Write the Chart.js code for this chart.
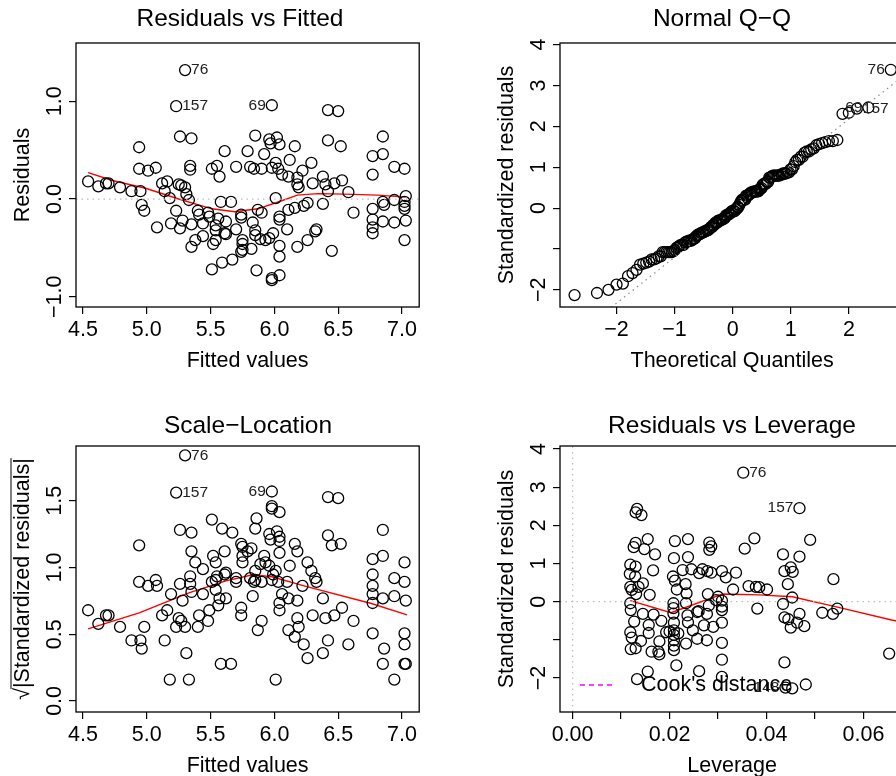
<!DOCTYPE html>
<html>
<head>
<meta charset="utf-8">
<script src="https://cdn.jsdelivr.net/npm/chart.js@4.4.1/dist/chart.umd.min.js"></script>
<style>
  html, body { margin: 0; padding: 0; background: #fff; overflow: hidden; }
  #wrap { position: relative; width: 896px; height: 776px; overflow: hidden; }
  canvas { position: absolute; }
</style>
</head>
<body>
<div id="wrap"></div>
<script>
// Residuals vs fitted (first three points are obs 76, 157, 69)
const fitted = [5.30,5.23,5.98,6.42,6.50,5.26,5.35,5.85,5.96,6.02,5.97,6.04,6.16,4.94,6.42,6.52,6.85,6.77,6.85,6.94,
  7.02,6.77,5.61,5.79,5.92,6.12,6.01,6.29,6.22,4.94,5.01,5.07,5.34,5.34,5.51,5.55,5.57,5.70,5.81,5.84,
  5.90,5.98,6.03,6.06,6.11,6.18,6.18,6.19,6.30,6.38,6.40,6.47,6.53,6.42,6.58,4.54,4.62,4.68,4.70,4.79,
  4.88,4.95,5.12,5.16,5.25,5.27,5.30,5.14,5.18,5.31,5.33,6.01,5.58,5.66,4.96,4.98,5.23,5.08,5.19,5.26,
  5.28,5.35,5.40,5.41,5.48,5.49,5.56,5.54,5.62,5.44,5.54,5.61,5.70,5.62,5.74,5.74,5.87,5.90,5.83,6.04,
  6.04,6.11,6.16,6.23,6.26,6.38,5.85,5.85,5.89,5.93,5.96,5.99,6.10,6.33,6.32,6.26,6.18,6.04,6.04,5.38,
  5.35,5.44,5.54,5.52,5.75,5.75,5.75,5.74,5.82,5.51,5.59,5.67,5.86,5.98,5.98,6.04,6.45,6.62,6.77,6.85,
  6.86,6.94,7.03,7.02,7.02,7.02,6.77,6.85,6.94,7.03,6.77,6.77,7.02];
const residuals = [1.32,0.95,0.96,0.91,0.90,0.64,0.62,0.65,0.61,0.63,0.57,0.56,0.54,0.53,0.60,0.54,0.64,0.44,0.46,0.33,
  0.31,0.25,0.49,0.49,0.46,0.40,0.37,0.37,0.29,0.31,0.29,0.32,0.34,0.30,0.31,0.34,0.23,0.33,0.33,0.31,
  0.31,0.32,0.31,0.25,0.23,0.22,0.15,0.12,0.16,0.23,0.15,0.16,0.19,0.08,0.07,0.18,0.13,0.16,0.16,0.12,
  0.08,0.08,0.16,0.18,0.15,0.14,0.12,0.08,0.01,0.05,-0.01,0.01,-0.03,-0.03,-0.06,-0.12,-0.12,-0.29,-0.25,-0.30,
  -0.22,-0.26,-0.12,-0.16,-0.14,-0.18,-0.20,-0.27,-0.23,-0.25,-0.32,-0.35,-0.31,-0.36,-0.16,-0.19,-0.11,-0.14,-0.24,-0.18,
  -0.21,-0.11,-0.09,-0.07,-0.04,-0.05,-0.32,-0.37,-0.41,-0.42,-0.40,-0.35,-0.31,-0.31,-0.33,-0.42,-0.49,-0.48,-0.59,-0.42,
  -0.49,-0.38,-0.42,-0.46,-0.42,-0.46,-0.52,-0.54,-0.51,-0.72,-0.65,-0.62,-0.73,-0.81,-0.83,-0.78,-0.53,-0.14,-0.10,-0.03,
  -0.06,-0.01,0.03,-0.03,-0.07,-0.10,-0.21,-0.23,-0.24,-0.22,-0.29,-0.35,-0.42];
const residSigma = 0.39;

// smoother lines
const rfSmoothX = [4.54,4.73,4.99,5.25,5.51,5.69,5.87,6.03,6.18,6.34,6.55,6.81,7.03];
const rfSmoothY = [0.27,0.19,0.11,0.00,-0.10,-0.13,-0.10,-0.03,0.04,0.055,0.05,0.04,0.02];
const slSmoothX = [4.54,4.94,5.33,5.62,5.83,5.98,6.24,6.76,7.04];
const slSmoothY = [0.54,0.66,0.81,0.90,0.945,0.93,0.86,0.73,0.645];
const qqLineX = [-3.5, 3.5];
const qqLineY = [-4.02, 3.87];

// Residuals vs leverage
const leverage = [0.0352,0.0468,0.0133,0.0130,0.0142,0.0155,0.0130,0.0126,0.0148,0.0170,0.0211,0.0238,0.0209,0.0238,0.0282,0.0286,0.0282,0.0355,0.0375,0.0490,
  0.0434,0.0468,0.0119,0.0130,0.0166,0.0118,0.0129,0.0145,0.0119,0.0136,0.0122,0.0131,0.0159,0.0207,0.0211,0.0215,0.0233,0.0235,0.0227,0.0245,
  0.0261,0.0268,0.0278,0.0286,0.0308,0.0316,0.0337,0.0331,0.0363,0.0378,0.0385,0.0401,0.0437,0.0450,0.0454,0.0444,0.0538,0.0279,0.0300,0.0308,
  0.0308,0.0308,0.0281,0.0260,0.0296,0.0119,0.0120,0.0145,0.0167,0.0183,0.0127,0.0157,0.0119,0.0122,0.0141,0.0157,0.0120,0.0130,0.0163,0.0177,
  0.0179,0.0179,0.0208,0.0208,0.0208,0.0234,0.0237,0.0257,0.0277,0.0238,0.0248,0.0234,0.0257,0.0277,0.0209,0.0209,0.0209,0.0209,0.0209,0.0209,
  0.0218,0.0200,0.0193,0.0290,0.0271,0.0308,0.0308,0.0308,0.0308,0.0381,0.0434,0.0453,0.0468,0.0437,0.0445,0.0450,0.0463,0.0478,0.0515,0.0537,
  0.0546,0.0437,0.0481,0.0653,0.0214,0.0261,0.0155,0.0133,0.0439,0.0453];
const levResid = [3.38,2.45,2.43,2.34,2.27,1.64,1.54,1.43,1.38,1.24,1.59,1.64,1.14,1.17,1.55,1.45,1.36,1.39,1.66,1.62,
  1.24,1.18,0.97,0.92,0.82,0.73,0.66,0.48,0.39,0.39,0.31,0.20,0.18,0.66,0.55,0.32,0.46,0.22,0.83,0.85,
  0.75,0.85,0.80,0.76,0.80,0.64,0.76,0.32,0.41,0.39,0.38,0.32,0.80,0.90,0.78,0.46,0.59,0.20,0.13,0.03,
  -0.13,-0.22,-0.10,-0.25,0.04,-0.04,-0.22,-0.32,-0.34,-0.50,-0.52,-0.61,-0.80,-0.94,-1.03,-0.82,-1.24,-1.22,-1.31,-1.31,
  -1.38,-1.04,-0.04,-0.17,-0.31,-0.04,-0.36,-0.27,-0.32,-0.54,-0.75,-1.10,-0.97,-1.01,-0.55,-0.75,-0.87,-1.01,-1.15,-1.27,
  -0.83,-0.78,-0.80,-0.66,-0.62,-0.55,-1.08,-1.52,-1.97,-0.18,-0.06,0.11,-0.32,-0.41,-0.46,-0.68,-0.55,-0.64,-0.29,-0.32,
  -0.18,-1.59,-2.17,-1.36,-1.67,-1.82,-1.83,-2.03,-2.25,-2.27];
const lvSmoothX = [0.0119,0.0203,0.0309,0.0385,0.0453,0.0542,0.0658,0.0700];
const lvSmoothY = [0.03,-0.29,0.20,0.18,0.13,-0.13,-0.48,-0.58];

// tick positions
const fitTicks = [4.5,5.0,5.5,6.0,6.5,7.0];
const resTicks = [-1,0,1];
const qqXTicks = [-2,-1,0,1,2];
const stdTicks = [-2,-1,0,1,2,3,4];
const slTicks = [0,0.5,1.0,1.5];
const levTicks = [0,0.01,0.02,0.03,0.04,0.05,0.06];

const FONT = '"Liberation Sans", Arial, Helvetica, sans-serif';
const AXIS_PX = 21.5, TITLE_PX = 24.5, ID_PX = 15.5;
const fmt = (v, d) => (v < 0 ? '\u2212' : '') + Math.abs(v).toFixed(d);

// inverse normal CDF (Acklam)
function qnorm(p) {
  const a = [-39.69683028665376,220.9460984245205,-275.9285104469687,138.3577518672690,-30.66479806614716,2.506628277459239];
  const b = [-54.47609879822406,161.5858368580409,-155.6989798598866,66.80131188771720,-13.28068155288572];
  const c = [-0.007784894002430293,-0.3223964580411365,-2.400758277161838,-2.549732539343734,4.374664141464968,2.938163982698783];
  const d = [0.007784695709041462,0.3224671290700398,2.445134137142996,3.754408661907416];
  const pl = 0.02425;
  let q, r;
  if (p < pl) {
    q = Math.sqrt(-2 * Math.log(p));
    return (((((c[0]*q+c[1])*q+c[2])*q+c[3])*q+c[4])*q+c[5]) / ((((d[0]*q+d[1])*q+d[2])*q+d[3])*q+1);
  }
  if (p > 1 - pl) {
    q = Math.sqrt(-2 * Math.log(1 - p));
    return -(((((c[0]*q+c[1])*q+c[2])*q+c[3])*q+c[4])*q+c[5]) / ((((d[0]*q+d[1])*q+d[2])*q+d[3])*q+1);
  }
  q = p - 0.5; r = q * q;
  return (((((a[0]*r+a[1])*r+a[2])*r+a[3])*r+a[4])*r+a[5])*q / (((((b[0]*r+b[1])*r+b[2])*r+b[3])*r+b[4])*r+1);
}

const stdRes = residuals.map(r => r / residSigma);
const n = stdRes.length;
const order = stdRes.map((v, i) => i).sort((i, j) => stdRes[i] - stdRes[j]);
const theo = new Array(n);
order.forEach((idx, rank) => { theo[idx] = qnorm((rank + 1 - 0.5) / n); });

const pts = (xs, ys) => xs.map((x, i) => ({x: x, y: ys[i]}));

function pointSet(data) {
  return { type: 'scatter', data: data, pointStyle: 'circle', pointRadius: 5.5, pointBorderWidth: 1.3,
    borderColor: '#000', backgroundColor: 'rgba(0,0,0,0)', pointHoverRadius: 5.5 };
}
function lineSet(data, color, dash, width) {
  return { type: 'line', data: data, borderColor: color, borderWidth: width || 1.4, borderDash: dash || [],
    pointRadius: 0, fill: false, tension: 0 };
}

function makePanel(p) {
  const LEFT = 80, TOP = 44, RIGHT = 5, BOTTOM = 70;
  const cv = document.createElement('canvas');
  const w = p.box.r - p.box.l + LEFT + RIGHT;
  const h = p.box.b - p.box.t + TOP + BOTTOM;
  const offX = p.box.l - LEFT, offY = p.box.t - TOP;
  cv.width = w; cv.height = h;
  cv.style.left = offX + 'px';
  cv.style.top = offY + 'px';
  cv.style.width = w + 'px';
  cv.style.height = h + 'px';
  document.getElementById('wrap').appendChild(cv);

  const axisCommon = {
    type: 'linear',
    grid: { drawOnChartArea: false, drawTicks: true, tickLength: 7, color: '#000', tickColor: '#000', lineWidth: 1.2 },
    border: { display: false },
    ticks: { color: 'rgba(0,0,0,0)', font: { size: 17, family: FONT } }
  };

  const decor = {
    id: 'decor',
    afterDraw(chart) {
      const ctx = chart.ctx, a = chart.chartArea;
      const xs = chart.scales.x, ys = chart.scales.y;
      ctx.save();
      ctx.strokeStyle = '#000'; ctx.lineWidth = 1.3;
      ctx.strokeRect(a.left, a.top, a.right - a.left, a.bottom - a.top);
      ctx.fillStyle = '#000';
      ctx.textAlign = 'center'; ctx.textBaseline = 'middle';
      ctx.font = AXIS_PX + 'px ' + FONT;
      p.xTicks.forEach(v => {
        const lab = p.xLabel(v);
        if (lab) ctx.fillText(lab, xs.getPixelForValue(v), a.bottom + 23);
      });
      p.yTicks.forEach(v => {
        const lab = p.yLabel(v);
        if (!lab) return;
        ctx.save();
        ctx.translate(a.left - 21, ys.getPixelForValue(v));
        ctx.rotate(-Math.PI / 2);
        ctx.fillText(lab, 0, 0);
        ctx.restore();
      });
      ctx.fillText(p.xTitle, (a.left + a.right) / 2, a.bottom + 54);
      ctx.save();
      ctx.translate(a.left - 53, (a.top + a.bottom) / 2);
      ctx.rotate(-Math.PI / 2);
      ctx.fillText(p.yTitle, 0, 0);
      if (p.yOverline) {
        const full = ctx.measureText(p.yTitle).width;
        const root = ctx.measureText('\u221A').width;
        ctx.beginPath();
        ctx.lineWidth = 1;
        ctx.moveTo(-full / 2 + root - 1, -12);
        ctx.lineTo(full / 2, -12);
        ctx.stroke();
      }
      ctx.restore();
      ctx.font = TITLE_PX + 'px ' + FONT;
      ctx.fillText(p.title, p.titleX - offX, p.titleY - offY);
      ctx.font = ID_PX + 'px ' + FONT;
      ctx.fillStyle = '#222';
      const meta = chart.getDatasetMeta(p.pointDataset);
      p.ids.forEach(id => {
        const el = meta.data[id.i];
        if (!el) return;
        ctx.textAlign = id.side === 'left' ? 'right' : 'left';
        ctx.fillText(id.text, el.x + (id.side === 'left' ? -6 : 6), el.y);
      });
      if (p.extra) p.extra(ctx, chart);
      ctx.restore();
    }
  };

  new Chart(cv, {
    data: { datasets: p.datasets },
    options: {
      responsive: false, animation: false,
      layout: { padding: { top: TOP, right: RIGHT, left: 0, bottom: 0 } },
      plugins: { legend: { display: false }, tooltip: { enabled: false } },
      scales: {
        x: Object.assign({}, axisCommon, { min: p.xMin, max: p.xMax,
          afterBuildTicks: s => { s.ticks = p.xTicks.map(v => ({ value: v })); },
          afterFit: s => { s.height = BOTTOM; } }),
        y: Object.assign({}, axisCommon, { min: p.yMin, max: p.yMax,
          afterBuildTicks: s => { s.ticks = p.yTicks.map(v => ({ value: v })); },
          afterFit: s => { s.width = LEFT; } })
      }
    },
    plugins: [decor]
  });
}

const dotted = [1.5, 4];

// Residuals vs Fitted
makePanel({
  box: { l: 76, t: 43, r: 421, b: 307 },
  xMin: 4.445, xMax: 7.135, yMin: -1.105, yMax: 1.597,
  xTicks: fitTicks, yTicks: resTicks,
  xLabel: v => v.toFixed(1), yLabel: v => fmt(v, 1),
  xTitle: 'Fitted values', yTitle: 'Residuals',
  title: 'Residuals vs Fitted', titleX: 240, titleY: 19,
  datasets: [
    lineSet(pts([4.445, 7.135], [0, 0]), '#bdbdbd', dotted, 1.2),
    pointSet(pts(fitted, residuals)),
    lineSet(pts(rfSmoothX, rfSmoothY), '#ff0000')
  ],
  pointDataset: 1,
  ids: [{ i: 0, text: '76', side: 'right' }, { i: 1, text: '157', side: 'right' }, { i: 2, text: '69', side: 'left' }]
});

// Normal Q-Q
makePanel({
  box: { l: 560, t: 43, r: 906, b: 307 },
  xMin: -2.97, xMax: 2.95, yMin: -2.42, yMax: 4.04,
  xTicks: qqXTicks, yTicks: stdTicks,
  xLabel: v => fmt(v, 0), yLabel: v => v === -1 ? '' : fmt(v, 0),
  xTitle: 'Theoretical Quantiles', yTitle: 'Standardized residuals',
  title: 'Normal Q\u2212Q', titleX: 722, titleY: 19,
  datasets: [
    lineSet(pts(qqLineX, qqLineY), '#8c8c8c', dotted, 1.2),
    pointSet(pts(theo, stdRes))
  ],
  pointDataset: 1,
  ids: [{ i: 0, text: '76', side: 'left' }, { i: 1, text: '157', side: 'right' }, { i: 2, text: '69', side: 'left' }]
});

// Scale-Location
const slY = stdRes.map(v => Math.sqrt(Math.abs(v)));
makePanel({
  box: { l: 76, t: 446, r: 421, b: 712 },
  xMin: 4.445, xMax: 7.135, yMin: -0.083, yMax: 1.91,
  xTicks: fitTicks, yTicks: slTicks,
  xLabel: v => v.toFixed(1), yLabel: v => fmt(v, 1),
  xTitle: 'Fitted values', yTitle: '\u221A|Standardized residuals|', yOverline: true,
  title: 'Scale\u2212Location', titleX: 248, titleY: 426,
  datasets: [
    pointSet(pts(fitted, slY)),
    lineSet(pts(slSmoothX, slSmoothY), '#ff0000')
  ],
  pointDataset: 0,
  ids: [{ i: 0, text: '76', side: 'right' }, { i: 1, text: '157', side: 'right' }, { i: 2, text: '69', side: 'left' }]
});

// Residuals vs Leverage
makePanel({
  box: { l: 560, t: 446, r: 906, b: 712 },
  xMin: -0.0026, xMax: 0.0684, yMin: -2.89, yMax: 4.08,
  xTicks: levTicks, yTicks: stdTicks,
  xLabel: v => (Math.round(v * 100) % 2 === 0 ? v.toFixed(2) : ''),
  yLabel: v => v === -1 ? '' : fmt(v, 0),
  xTitle: 'Leverage', yTitle: 'Standardized residuals',
  title: 'Residuals vs Leverage', titleX: 732, titleY: 426,
  datasets: [
    lineSet(pts([-0.0026, 0.0684], [0, 0]), '#bdbdbd', dotted, 1.2),
    lineSet(pts([0, 0], [-2.89, 4.08]), '#bdbdbd', dotted, 1.2),
    pointSet(pts(leverage, levResid)),
    lineSet(pts(lvSmoothX, lvSmoothY), '#ff0000')
  ],
  pointDataset: 2,
  ids: [{ i: 0, text: '76', side: 'right' }, { i: 1, text: '157', side: 'left' }, { i: 128, text: '148', side: 'left' }],
  extra: (ctx, chart) => {
    const a = chart.chartArea;
    const y = a.bottom - 27;
    ctx.strokeStyle = '#ff00ff'; ctx.lineWidth = 1.5; ctx.setLineDash([5, 4]);
    ctx.beginPath(); ctx.moveTo(a.left + 20, y); ctx.lineTo(a.left + 53, y); ctx.stroke();
    ctx.setLineDash([]);
    ctx.fillStyle = '#000'; ctx.textAlign = 'left'; ctx.font = AXIS_PX + 'px ' + FONT;
    ctx.fillText("Cook's distance", a.left + 81, y);
  }
});
</script>
</body>
</html>
